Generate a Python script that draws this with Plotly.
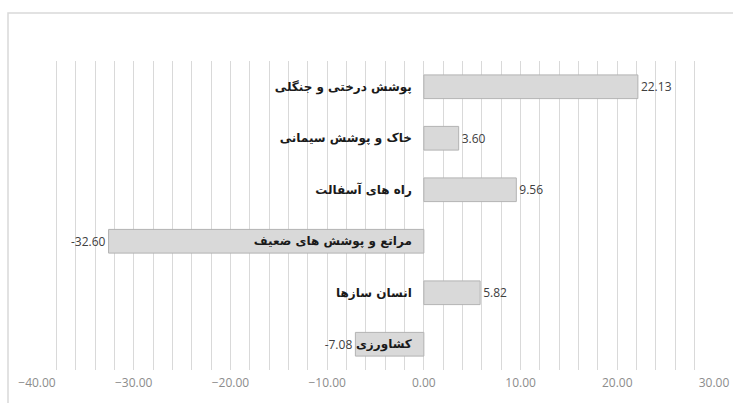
import plotly.graph_objects as go

# Land-cover change values (top to bottom as displayed)
categories = [
    "پوشش درختی و جنگلی",
    "خاک و پوشش سیمانی",
    "راه های آسفالت",
    "مراتع و پوشش های ضعیف",
    "انسان سازها",
    "کشاورزی",
]
values = [22.13, 3.60, 9.56, -32.60, 5.82, -7.08]

x_min, x_max = -40, 30
grid_color = "#d9d9d9"

fig = go.Figure(
    go.Bar(
        x=values,
        y=categories,
        orientation="h",
        marker=dict(color="#d9d9d9", line=dict(color="#b3b3b3", width=1)),
        width=0.46,
        text=[f"{v:.2f}" for v in values],
        textposition="outside",
        textfont=dict(family="Open Sans", size=12, color="#404040"),
        cliponaxis=False,
    )
)

fig.update_layout(
    width=733,
    height=403,
    margin=dict(l=37, r=19, t=61, b=33),
    paper_bgcolor="white",
    plot_bgcolor="white",
    showlegend=False,
    xaxis=dict(
        range=[x_min, x_max],
        dtick=10,
        tickformat=".2f",
        showgrid=True,
        gridcolor=grid_color,
        gridwidth=1,
        minor=dict(dtick=2, showgrid=True, gridcolor=grid_color, gridwidth=1),
        zeroline=False,
        showline=False,
        ticks="",
        ticklabelstandoff=4,
        tickfont=dict(family="Open Sans", size=12, color="#8c8c8c"),
        automargin=False,
        fixedrange=True,
    ),
    yaxis=dict(
        categoryorder="array",
        categoryarray=categories[::-1],
        anchor="free",
        position=(0 - x_min) / (x_max - x_min),
        side="left",
        showgrid=False,
        zeroline=False,
        showline=False,
        ticks="",
        ticklabelstandoff=12,
        tickfont=dict(family="DejaVu Sans", size=12, color="#1a1a1a", weight="bold"),
        automargin=False,
        fixedrange=True,
    ),
)

# Light frame around the chart area
plot_w = 733 - 37 - 19
plot_h = 403 - 61 - 33
fig.add_shape(
    type="rect",
    xref="paper",
    yref="paper",
    x0=(8 - 37) / plot_w,
    x1=(745 - 37) / plot_w,
    y0=(370 - 415) / plot_h,
    y1=(370 - 13) / plot_h,
    line=dict(color="#d9d9d9", width=1.5),
    fillcolor="rgba(0,0,0,0)",
    layer="below",
)

fig.write_html("out.html")
